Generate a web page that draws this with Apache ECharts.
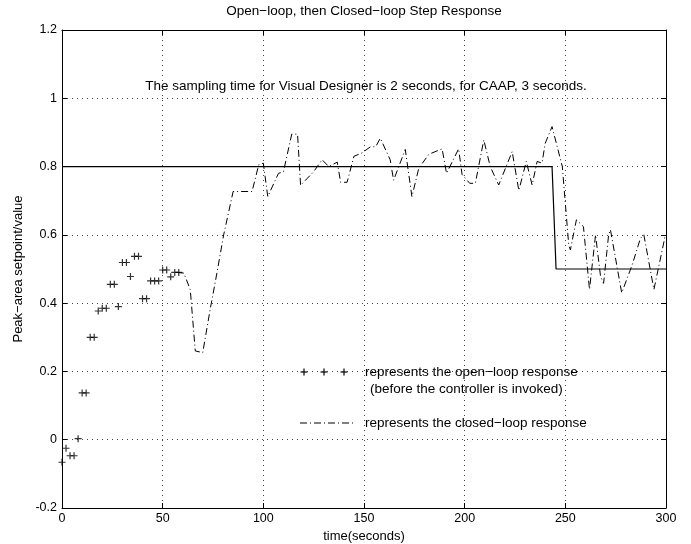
<!DOCTYPE html>
<html><head><meta charset="utf-8">
<script src="https://cdn.jsdelivr.net/npm/echarts@6/dist/echarts.min.js"></script>
<style>html,body{margin:0;padding:0;background:#fff}#c{width:691px;height:544px}</style>
</head><body><div id="c"></div>
<script>
// Open-loop (Visual Designer, 2 s sampling)
const openT = [0,2,4,6,8,10,12,14,16,18,20,22,24,26,28,30,32,34,36,38,40,42,44,46,48,50,52,54,56,58];
const openV = [-0.066,-0.025,-0.047,-0.047,0.003,0.137,0.137,0.30,0.30,0.377,0.385,0.385,0.455,0.455,0.39,0.519,0.519,0.478,0.537,0.537,0.413,0.413,0.465,0.465,0.465,0.497,0.497,0.477,0.49,0.49];
// Closed-loop (CAAP)
const closedT = [57,60.5,63.7,66.2,69.9,73.7,77,80.3,85,94.4,97.7,100,102.2,107.5,110,114.1,117,118.5,125,129.2,132.5,136.7,138.4,141.6,145,149,153.2,155.8,158.1,163,164.7,170.5,173.8,177.2,182.2,188.8,191,197,198.7,202.5,205.3,209.5,212.7,216.9,223.6,226.9,230.6,233.5,236,238.4,240,243.4,248.5,251.7,252.5,255.5,259,262,265,267.5,269,271.5,272.4,278,283.2,287.3,289,294,299.7,300];
const closedV = [0.49,0.488,0.44,0.26,0.255,0.385,0.49,0.60,0.727,0.727,0.805,0.81,0.712,0.78,0.785,0.895,0.895,0.745,0.785,0.82,0.80,0.813,0.754,0.754,0.83,0.84,0.858,0.858,0.883,0.82,0.76,0.85,0.712,0.795,0.836,0.852,0.78,0.852,0.777,0.751,0.751,0.878,0.80,0.746,0.844,0.73,0.815,0.746,0.815,0.81,0.868,0.917,0.80,0.57,0.556,0.644,0.624,0.44,0.60,0.478,0.458,0.60,0.615,0.43,0.512,0.59,0.60,0.44,0.60,0.60];
// Setpoint
const setT = [0,243.4,245.4,300];
const setV = [0.8,0.8,0.5,0.5];
const xTicks = [0,50,100,150,200,250,300];
const yTicks = [-0.2,0,0.2,0.4,0.6,0.8,1,1.2];

const FONT = 'Liberation Sans';
const plusPath = 'path://M5,0L5,10M0,5L10,5';
const zip = (a,b)=>a.map((t,i)=>[t,b[i]]);
const gridLine = {show:true,lineStyle:{color:'#444',type:[1,4],width:1}};
const chart = echarts.init(document.getElementById('c'),null,{renderer:'canvas'});
const L = 62, R = 666, T = 30, B = 508;
function plus(cx,cy){return [
  {type:'line',shape:{x1:cx-3.5,y1:cy,x2:cx+3.5,y2:cy},style:{stroke:'#000',lineWidth:1.2}},
  {type:'line',shape:{x1:cx,y1:cy-3.5,x2:cx,y2:cy+3.5},style:{stroke:'#000',lineWidth:1.2}}];}
chart.setOption({
  animation:false,
  backgroundColor:'#fff',
  grid:{left:L,right:691-R,top:T,bottom:544-B,show:false,containLabel:false,outerBoundsMode:'none'},
  xAxis:[{
    type:'value',min:xTicks[0],max:xTicks[xTicks.length-1],interval:50,
    axisLine:{show:true,onZero:false,lineStyle:{color:'#000',width:1}},
    axisTick:{inside:true,length:5,lineStyle:{color:'#000'}},
    axisLabel:{color:'#000',fontSize:12.5,fontFamily:FONT,margin:4},
    splitLine:gridLine,
    name:'time(seconds)',nameLocation:'middle',nameGap:19,
    nameTextStyle:{color:'#000',fontSize:13,fontFamily:FONT}
  },{
    type:'value',position:'top',min:0,max:300,interval:50,
    axisLine:{show:true,onZero:false,lineStyle:{color:'#000',width:1}},
    axisTick:{inside:true,length:5,lineStyle:{color:'#000'}},
    axisLabel:{show:false},splitLine:{show:false}
  }],
  yAxis:[{
    type:'value',min:yTicks[0],max:yTicks[yTicks.length-1],interval:0.2,
    axisLine:{show:true,onZero:false,lineStyle:{color:'#000',width:1}},
    axisTick:{inside:true,length:5,lineStyle:{color:'#000'}},
    axisLabel:{color:'#000',fontSize:12.5,fontFamily:FONT,margin:5,
      formatter:v=>String(Math.round(v*10)/10)},
    splitLine:gridLine,
    name:'Peak\u2212area setpoint/value',nameLocation:'middle',nameGap:36,
    nameTextStyle:{color:'#000',fontSize:13,fontFamily:FONT}
  },{
    type:'value',position:'right',min:-0.2,max:1.2,interval:0.2,
    axisLine:{show:true,onZero:false,lineStyle:{color:'#000',width:1}},
    axisTick:{inside:true,length:5,lineStyle:{color:'#000'}},
    axisLabel:{show:false},splitLine:{show:false}
  }],
  series:[
    {type:'line',data:zip(setT,setV),showSymbol:false,symbol:'none',
     lineStyle:{color:'#000',width:1.2},z:3},
    {type:'line',data:zip(closedT,closedV),showSymbol:false,symbol:'none',
     lineStyle:{color:'#000',width:1,type:[7,3,1,3]},z:4},
    {type:'scatter',data:zip(openT,openV),symbol:plusPath,symbolSize:7,
     itemStyle:{color:'rgba(0,0,0,0)',borderColor:'#000',borderWidth:1.2},z:5}
  ],
  graphic:[
    {type:'text',style:{text:'Open\u2212loop, then Closed\u2212loop Step Response',x:364,y:11,align:'center',verticalAlign:'middle',fill:'#000',font:'13.5px '+FONT}},
    {type:'text',style:{text:'The sampling time for Visual Designer is 2 seconds, for CAAP, 3 seconds.',x:366,y:86,align:'center',verticalAlign:'middle',fill:'#000',font:'13.5px '+FONT}},
    ...plus(304,372),...plus(324,372),...plus(344,372),
    {type:'text',style:{text:'represents the open\u2212loop response',x:365,y:372,align:'left',verticalAlign:'middle',fill:'#000',font:'13.5px '+FONT}},
    {type:'text',style:{text:'(before the controller is invoked)',x:370,y:389,align:'left',verticalAlign:'middle',fill:'#000',font:'13.5px '+FONT}},
    {type:'line',shape:{x1:300,y1:423,x2:356,y2:423},style:{stroke:'#000',lineWidth:1,lineDash:[7,3,1,3]}},
    {type:'text',style:{text:'represents the closed\u2212loop response',x:365,y:423,align:'left',verticalAlign:'middle',fill:'#000',font:'13.5px '+FONT}}
  ]
});
</script></body></html>
